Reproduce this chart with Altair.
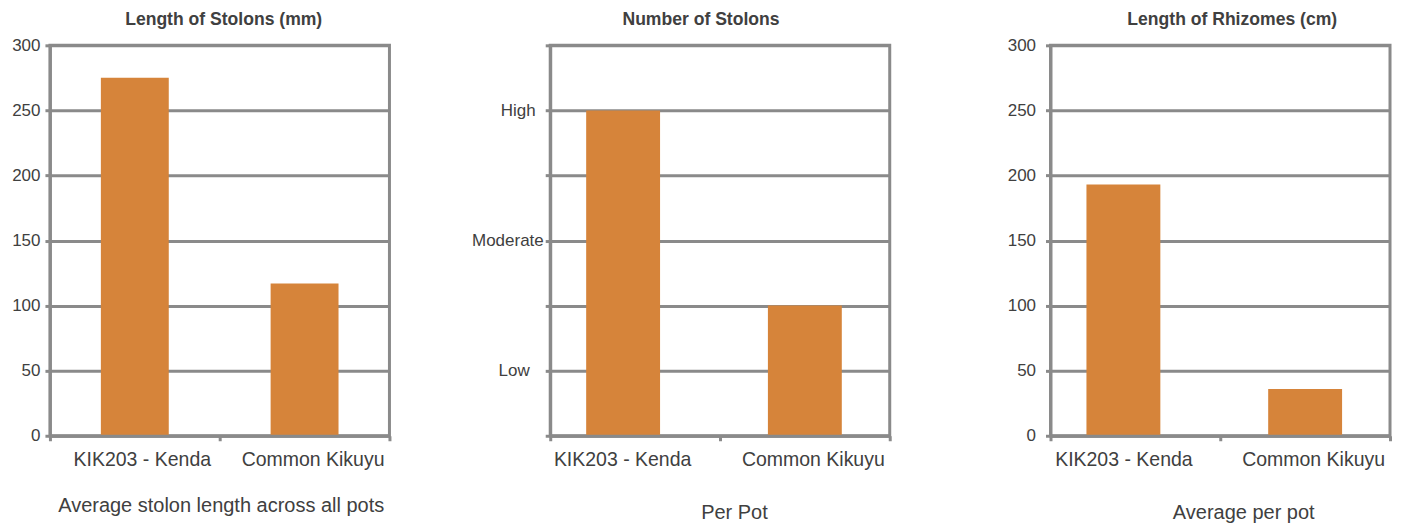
import altair as alt
import pandas as pd

# ---- data ----
varieties = ["KIK203 - Kenda", "Common Kikuyu"]
stolon_length_mm = [275, 117]
stolon_number = [5, 2]          # 1 = Low, 3 = Moderate, 5 = High
rhizome_length_cm = [193, 36]
level_labels = ["Low", "Moderate", "High"]
level_values = [1, 3, 5]

titles = ["Length of Stolons (mm)", "Number of Stolons", "Length of Rhizomes (cm)"]
x_titles = ["Average stolon length across all pots", "Per Pot", "Average per pot"]

GRID = "#8a8a8a"
BAR = "#D6843A"
TEXT = "#404040"
FONT = "Liberation Sans"
W, H = 340, 391


def panel(values, title, xtitle, ymax, ystep, label_expr=None, ylabel_pad=6,
          title_dx=0, title_offset=-6, xtitle_dx=0, xtitle_pad=26, bar_size=70,
          first_label_off=8, first_bar_off=0):
    df = pd.DataFrame({"variety": varieties, "value": values})
    yvals = list(range(0, ymax + 1, ystep))
    yaxis_kw = dict(
        values=yvals, title=None, grid=True, gridColor=GRID, gridWidth=3,
        domain=True, domainColor=GRID, domainWidth=3,
        ticks=True, tickColor=GRID, tickWidth=3, tickSize=5,
        labelFont=FONT, labelFontSize=17, labelColor=TEXT,
        labelPadding=ylabel_pad,
    )
    if label_expr:
        yaxis_kw["labelExpr"] = label_expr
    xaxis = alt.Axis(
        title=xtitle, labelAngle=0, tickBand="extent",
        domain=True, domainColor=GRID, domainWidth=3,
        ticks=True, tickColor=GRID, tickWidth=3, tickSize=5,
        labelFont=FONT, labelFontSize=19.5, labelColor=TEXT, labelPadding=10,
        labelOffset={"condition": {"test": f"datum.value == '{varieties[0]}'",
                                   "value": first_label_off}, "value": 8},
        titleFont=FONT, titleFontSize=20, titleFontWeight="normal",
        titleColor=TEXT, titlePadding=xtitle_pad, titleX=W / 2 + xtitle_dx,
        zindex=1,
    )
    return (
        alt.Chart(df, title=alt.Title(title, font=FONT, fontSize=17.6,
                                      fontWeight="bold", color=TEXT,
                                      anchor="middle", dx=title_dx,
                                      baseline="alphabetic", offset=title_offset))
        .mark_bar(size=bar_size, color=BAR,
                  xOffset=alt.expr(f"datum.variety == '{varieties[0]}' ? {first_bar_off} : 0"))
        .encode(
            x=alt.X("variety:N", sort=varieties,
                    scale=alt.Scale(paddingInner=0, paddingOuter=0), axis=xaxis),
            y=alt.Y("value:Q", scale=alt.Scale(domain=[0, ymax], nice=False),
                    axis=alt.Axis(**yaxis_kw)),
        )
        .properties(width=W, height=H)
    )


level_expr = " : ".join(
    f"datum.value == {v} ? '{l}'" for v, l in zip(level_values, level_labels)
) + " : ''"

level_pad = {
    "condition": [
        {"test": f"datum.value == {level_values[2]}", "value": 10},
        {"test": f"datum.value == {level_values[0]}", "value": 16},
    ],
    "value": 2,
}

p1 = panel(stolon_length_mm, titles[0], x_titles[0], 300, 50,
           ylabel_pad=5, title_dx=4, title_offset=-6, xtitle_dx=1, xtitle_pad=26,
           bar_size=68, first_label_off=7, first_bar_off=0)
p2 = panel(stolon_number, titles[1], x_titles[1], 6, 1, label_expr=level_expr,
           ylabel_pad=level_pad, title_dx=-19, title_offset=1, xtitle_dx=14,
           xtitle_pad=33, bar_size=74, first_label_off=-13, first_bar_off=-12)
p3 = panel(rhizome_length_cm, titles[2], x_titles[2], 300, 50,
           ylabel_pad=10, title_dx=12, title_offset=-6, xtitle_dx=23, xtitle_pad=33,
           bar_size=74, first_label_off=-12, first_bar_off=-12)

chart = (
    alt.hconcat(p1, p2, p3, spacing=161, bounds="flush")
    .properties(padding={"left": 2, "top": 0, "right": 5, "bottom": 2},
                background="white")
    .configure_view(stroke=GRID, strokeWidth=3)
)

chart.save("out.html", embed_options={"renderer": "svg", "actions": False})
